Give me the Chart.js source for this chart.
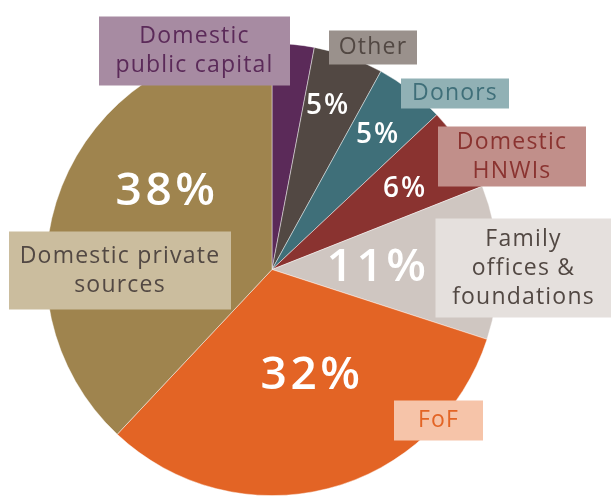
<!DOCTYPE html>
<html>
<head>
<meta charset="utf-8">
<script src="https://cdn.jsdelivr.net/npm/chart.js@4"></script>
<style>
  html, body { margin: 0; padding: 0; background: #fff; }
  #wrap { width: 611px; height: 496px; position: relative; }
</style>
</head>
<body>
<div id="wrap"><canvas id="fundChart"></canvas></div>
<script>
// --- Data ---
const categories = ['Domestic public capital', 'Other', 'Donors', 'Domestic HNWIs',
                    'Family offices & foundations', 'FoF', 'Domestic private sources'];
const shares = [3, 5, 5, 6, 11, 32, 38];
const labelLines = [['Domestic', 'public capital'], ['Other'], ['Donors'], ['Domestic', 'HNWIs'],
                    ['Family', 'offices &', 'foundations'], ['FoF'], ['Domestic private', 'sources']];

// --- Styles ---
const sliceColors = ['#5b2a59', '#524843', '#3f6f79', '#8a3330', '#cfc6c1', '#e36425', '#9f844e'];
const boxColors   = ['#a78ba2', '#9a918c', '#91b1b5', '#c18f8a', '#e5e0dd', '#f6c4a9', '#cbbd9e'];
const textColors  = ['#5b2a59', '#524843', '#3f6f79', '#8a3330', '#524843', '#e36425', '#524843'];

// label boxes, offsets from pie centre: [dx, dy, w, h]
const boxLayout = [
    [-77.5, -218.5, 191, 69],
    [101, -222, 88, 34],
    [183, -176, 108, 30],
    [240, -113, 148, 60],
    [251.5, -1.5, 176, 99],
    [166.5, 151, 89, 40],
    [-152, 1, 222, 78]
];
// percentage text, offsets from pie centre: [dx, dy, size] (null = no text)
const pctLayout = [null, [56, -163, 28], [106, -134, 28], [133, -80, 28],
                   [106, -2, 46], [40, 106, 46], [-105, -78, 46]];

const FONT = '"Open Sans", sans-serif';

const labelPlugin = {
    id: 'sliceLabels',
    afterDraw(chart) {
        const ctx = chart.ctx;
        const arc = chart.getDatasetMeta(0).data[0];
        const cx = arc.x, cy = arc.y;
        ctx.save();
        ctx.textAlign = 'center';
        ctx.textBaseline = 'middle';

        // percentages
        shares.forEach((v, i) => {
            const p = pctLayout[i];
            if (!p) return;
            ctx.font = '600 ' + p[2] + 'px ' + FONT;
            ctx.letterSpacing = (p[2] > 30 ? 3.5 : 2) + 'px';
            ctx.fillStyle = '#ffffff';
            ctx.fillText(v + '%', cx + p[0], cy + p[1]);
        });

        // boxed category labels
        ctx.font = '400 23px ' + FONT;
        ctx.letterSpacing = '1.2px';
        labelLines.forEach((lines, i) => {
            const b = boxLayout[i];
            const bx = cx + b[0], by = cy + b[1];
            ctx.fillStyle = boxColors[i];
            ctx.fillRect(bx - b[2] / 2, by - b[3] / 2, b[2], b[3]);
            ctx.fillStyle = textColors[i];
            const lh = 29;
            lines.forEach((t, k) => {
                ctx.fillText(t, bx, by + (k - (lines.length - 1) / 2) * lh);
            });
        });
        ctx.restore();
    }
};

const ctx = document.getElementById('fundChart').getContext('2d');
const fundChart = new Chart(ctx, {
    type: 'pie',
    data: {
        labels: categories,
        datasets: [{
            data: shares,
            backgroundColor: sliceColors,
            borderColor: 'rgba(255,255,255,0.55)',
            borderWidth: 0.8
        }]
    },
    options: {
        responsive: true,
        maintainAspectRatio: false,
        animation: false,
        layout: { padding: { left: 45, right: 112, top: 43, bottom: 0 } },
        plugins: {
            legend: { display: false },
            tooltip: { enabled: false }
        }
    },
    plugins: [labelPlugin]
});
</script>
</body>
</html>
